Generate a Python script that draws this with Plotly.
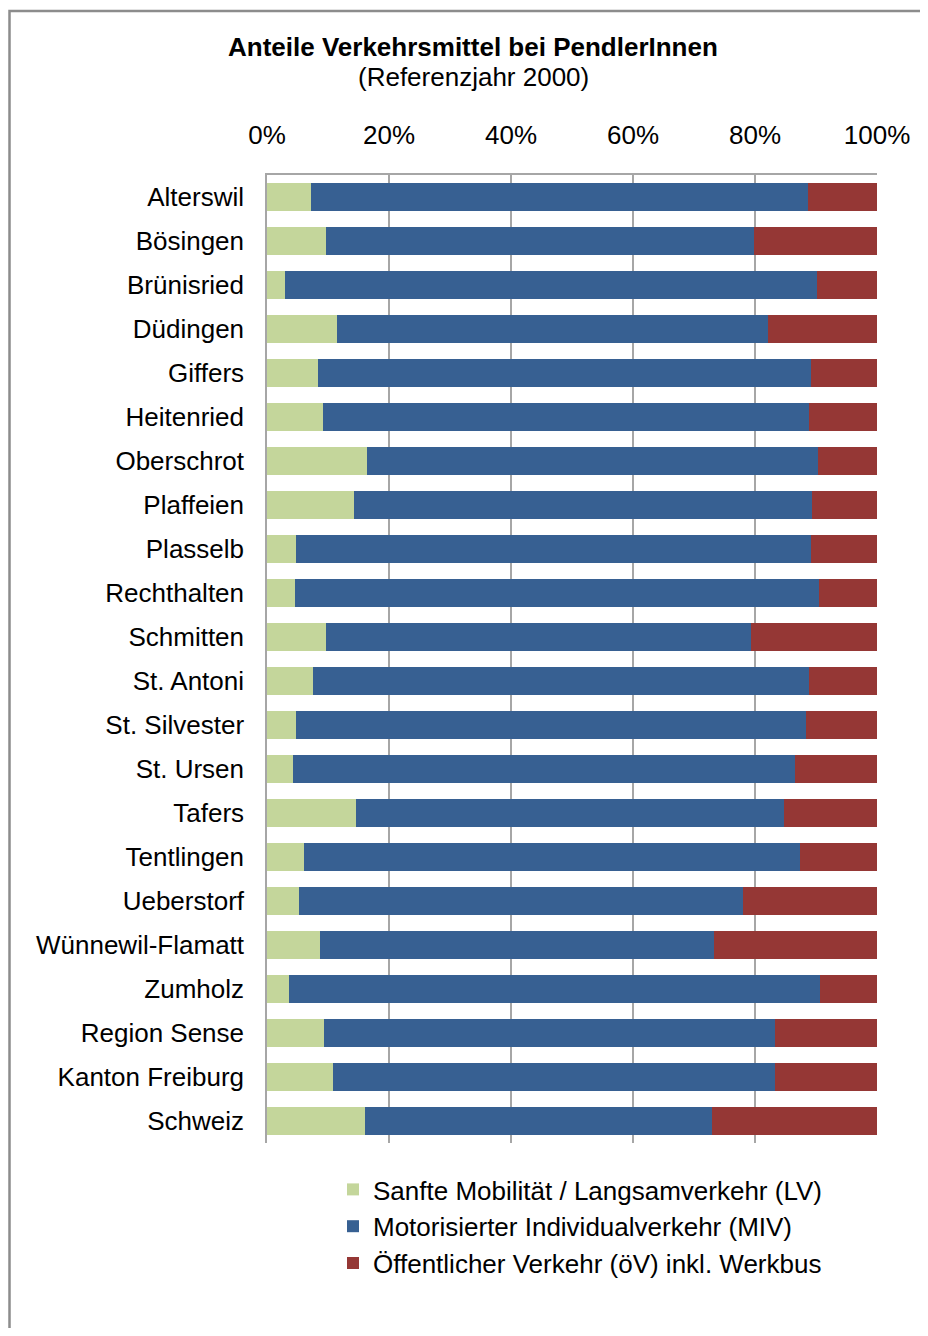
import plotly.graph_objects as go

categories = ["Alterswil", "Bösingen", "Brünisried", "Düdingen", "Giffers", "Heitenried",
              "Oberschrot", "Plaffeien", "Plasselb", "Rechthalten", "Schmitten", "St. Antoni",
              "St. Silvester", "St. Ursen", "Tafers", "Tentlingen", "Ueberstorf",
              "Wünnewil-Flamatt", "Zumholz", "Region Sense", "Kanton Freiburg", "Schweiz"]

lv = [7.2, 9.7, 3.0, 11.5, 8.3, 9.1, 16.4, 14.3, 4.8, 4.6, 9.7, 7.6,
      4.8, 4.2, 14.6, 6.0, 5.2, 8.7, 3.6, 9.3, 10.9, 16.0]
miv = [81.5, 70.1, 87.1, 70.7, 80.8, 79.8, 73.9, 75.0, 84.3, 85.9, 69.7, 81.3,
       83.5, 82.4, 70.2, 81.3, 72.9, 64.6, 87.1, 73.9, 72.3, 56.9]
oev = [11.3, 20.2, 9.9, 17.8, 10.9, 11.1, 9.7, 10.7, 10.9, 9.5, 20.6, 11.1,
       11.7, 13.4, 15.2, 12.7, 21.9, 26.7, 9.3, 16.8, 16.8, 27.1]

series_names = ["Sanfte Mobilität / Langsamverkehr (LV)",
                "Motorisierter Individualverkehr (MIV)",
                "Öffentlicher Verkehr (öV) inkl. Werkbus"]
colors = ["#C4D69B", "#376092", "#953735"]

tick_vals = [0, 20, 40, 60, 80, 100]
tick_text = ["0%", "20%", "40%", "60%", "80%", "100%"]

title_line1 = "Anteile Verkehrsmittel bei PendlerInnen"
title_line2 = "(Referenzjahr 2000)"

FONT = "Liberation Sans, Arial, sans-serif"
FS = 26

fig = go.Figure()
for name, vals, col in zip(series_names, [lv, miv, oev], colors):
    fig.add_trace(go.Bar(y=categories, x=vals, name=name, orientation="h",
                         marker=dict(color=col, line=dict(width=0))))

# page offset (body margin) compensation
OFF = 8
W, H = 920, 1320
L, R, T, B = 267 - OFF, 877 - OFF, 175 - OFF, 1143 - OFF

def px2x(p):
    return (p - OFF - L) / (R - L)

def py2y(p):
    return (B - (p - OFF)) / (B - T)

fig.update_layout(
    width=W, height=H,
    margin=dict(l=L, r=W - R, t=T, b=H - B),
    barmode="stack", bargap=0.35,
    paper_bgcolor="white", plot_bgcolor="white",
    font=dict(family=FONT, size=FS, color="#000000"),
    showlegend=True,
    legend=dict(x=px2x(333), y=py2y(1166), xanchor="left", yanchor="top",
                font=dict(size=FS, family=FONT), traceorder="normal",
                bgcolor="rgba(0,0,0,0)"),
    xaxis=dict(side="top", range=[0, 100], tickvals=tick_vals, ticktext=tick_text,
               showgrid=True, gridcolor="#A6A6A6", gridwidth=1.5,
               showline=True, linecolor="#A6A6A6", linewidth=1.5, mirror=False,
               zeroline=False, ticks="", ticklabelstandoff=19,
               tickfont=dict(size=FS, family=FONT), fixedrange=True),
    yaxis=dict(autorange="reversed", showgrid=False, showline=True, linecolor="#A6A6A6",
               linewidth=1.5, ticks="", ticklabelstandoff=16,
               tickfont=dict(size=FS, family=FONT), fixedrange=True),
    shapes=[dict(type="rect", xref="paper", yref="paper",
                 x0=px2x(9.5), x1=px2x(945), y0=py2y(11), y1=py2y(1350),
                 line=dict(color="#8C8C8C", width=2.5), fillcolor="rgba(0,0,0,0)",
                 layer="below")],
    annotations=[
        dict(text="<b>" + title_line1 + "</b>", xref="paper", yref="paper",
             x=px2x(473), y=py2y(47), xanchor="center", yanchor="middle",
             showarrow=False, font=dict(size=FS, family=FONT)),
        dict(text=title_line2, xref="paper", yref="paper",
             x=px2x(473), y=py2y(77), xanchor="center", yanchor="middle",
             showarrow=False, font=dict(size=FS, family=FONT)),
    ],
)

fig.write_html("out.html")
